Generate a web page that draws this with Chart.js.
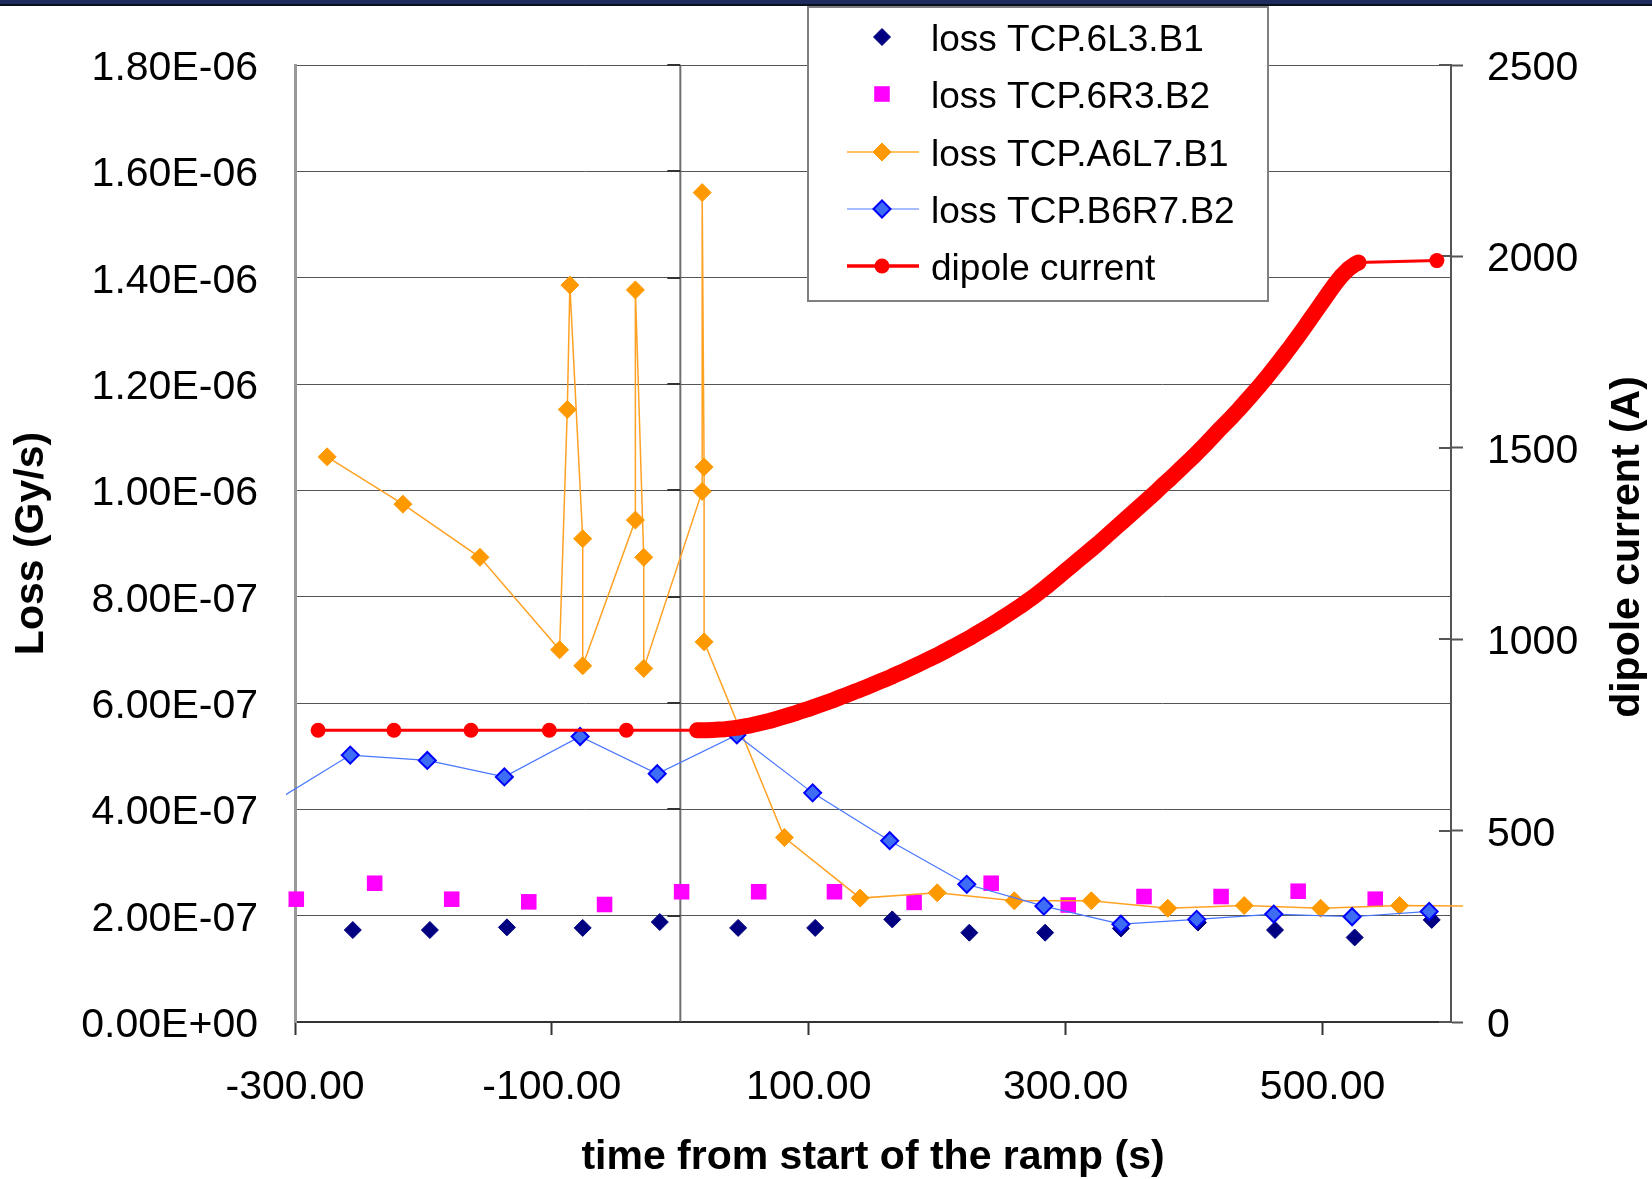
<!DOCTYPE html>
<html>
<head>
<meta charset="utf-8">
<title>Collimator losses during the ramp</title>
<script src="https://cdn.jsdelivr.net/npm/chart.js@4.4.1/dist/chart.umd.min.js"></script>
<style>
  html, body { margin: 0; padding: 0; background: #fff; }
  #wrap { position: relative; width: 1652px; height: 1179px; }
  #band { position: absolute; left: 0; top: 0; width: 1652px; height: 4px; background: #1c2c5c; border-bottom: 2px solid #0a0f1e; }
</style>
</head>
<body>
<div id="wrap">
  <canvas id="lossChart"></canvas>
  <div id="band"></div>
</div>
<script>
const seriesNames = ['loss TCP.6L3.B1', 'loss TCP.6R3.B2', 'loss TCP.A6L7.B1', 'loss TCP.B6R7.B2', 'dipole current'];

// axis ticks
const timeTicks = [-300, -100, 100, 300, 500];
const lossTicks = [0, 2e-7, 4e-7, 6e-7, 8e-7, 1e-6, 1.2e-6, 1.4e-6, 1.6e-6, 1.8e-6];
const currentTicks = [0, 500, 1000, 1500, 2000, 2500];

// TCP.6L3.B1 (Gy/s)
const tcp6L3Time = [-255, -195, -135, -76, -16, 45, 105, 165, 225, 284, 343, 403, 463, 525, 585];
const tcp6L3Loss = [1.73e-7, 1.73e-7, 1.78e-7, 1.77e-7, 1.88e-7, 1.77e-7, 1.77e-7, 1.93e-7, 1.68e-7, 1.68e-7, 1.76e-7, 1.87e-7, 1.73e-7, 1.59e-7, 1.92e-7];

// TCP.6R3.B2
const tcp6R3Time = [-299, -238, -178, -118, -59, 1, 61, 120, 182, 242, 302, 361, 421, 481, 541];
const tcp6R3Loss = [2.31e-7, 2.61e-7, 2.31e-7, 2.26e-7, 2.21e-7, 2.45e-7, 2.45e-7, 2.45e-7, 2.25e-7, 2.61e-7, 2.2e-7, 2.36e-7, 2.36e-7, 2.46e-7, 2.31e-7];

// TCP.A6L7.B1
const tcpA6L7Time = [-275, -216, -156, -94, -88, -86, -76, -76, -35, -35, -28.5, -28.5, 17, 17, 18.5, 18.5, 81, 140, 200, 260, 320, 379.5, 439, 498.5, 560, 620];
const tcpA6L7Loss = [1.063e-6, 9.74e-7, 8.74e-7, 7.0e-7, 1.152e-6, 1.386e-6, 9.09e-7, 6.7e-7, 9.44e-7, 1.377e-6, 8.74e-7, 6.65e-7, 9.98e-7, 1.56e-6, 1.044e-6, 7.15e-7, 3.47e-7, 2.33e-7, 2.43e-7, 2.28e-7, 2.28e-7, 2.14e-7, 2.19e-7, 2.14e-7, 2.19e-7, 2.18e-7];

// TCP.B6R7.B2
const tcpB6R7Time = [-317, -257, -197, -137, -78, -18, 44, 103, 163, 223, 283, 343, 402, 462, 523, 583];
const tcpB6R7Loss = [4.13e-7, 5.02e-7, 4.92e-7, 4.61e-7, 5.37e-7, 4.67e-7, 5.4e-7, 4.31e-7, 3.41e-7, 2.59e-7, 2.18e-7, 1.84e-7, 1.93e-7, 2.03e-7, 1.98e-7, 2.08e-7];

// main dipole current (A)
const dipoleTime = [-282, -223, -163, -102, -42, 13, 15,
  20, 25, 30, 35, 40, 45, 50, 55, 60, 65, 70, 75, 80, 85, 90, 95, 100,
  105, 110, 115, 120, 125, 130, 135, 140, 145, 150, 155, 160, 165, 170, 175, 180, 185, 190, 195, 200,
  205, 210, 215, 220, 225, 230, 235, 240, 245, 250, 255, 260, 265, 270, 275, 280, 285, 290, 295, 300,
  305, 310, 315, 320, 325, 330, 335, 340, 345, 350, 355, 360, 365, 370, 375, 380, 385, 390, 395, 400,
  405, 410, 415, 420, 425, 430, 435, 440, 445, 450, 455, 460, 465, 470, 475, 480, 485, 490, 495, 500,
  505, 510, 515, 520, 525, 528, 589];
const dipoleCurrent = [762, 762, 762, 762, 762, 762, 762,
  762, 763, 764, 765, 767, 769, 772, 775, 779, 783, 787, 792, 797, 802, 807, 813, 818,
  824, 830, 836, 842, 849, 855, 862, 868, 875, 882, 889, 896, 903, 911, 918, 926, 934, 942, 950, 958,
  967, 976, 985, 994, 1003, 1013, 1023, 1033, 1043, 1054, 1065, 1076, 1087, 1099, 1111, 1124, 1137, 1151, 1165, 1179,
  1193, 1207, 1221, 1235, 1249, 1264, 1279, 1294, 1309, 1324, 1339, 1354, 1369, 1384, 1400, 1415, 1431, 1447, 1463, 1479,
  1496, 1513, 1531, 1549, 1566, 1583, 1601, 1620, 1639, 1658, 1678, 1699, 1720, 1742, 1764, 1787, 1810, 1834, 1858, 1882,
  1906, 1929, 1950, 1967, 1979, 1984, 1989];

// ramp start / end times, the ramp is drawn as a dense band
const rampStart = 13;
const rampEnd = 528;

const FONT = '"Liberation Sans", Arial, sans-serif';
Chart.defaults.font.family = FONT;
Chart.defaults.color = '#000';

const toPoints = (xs, ys) => xs.map((x, i) => ({ x: x, y: ys[i] }));

// 1.80E-06 style labels
function sciLabel(v) {
  const parts = Number(v).toExponential(2).split('e');
  const e = parseInt(parts[1], 10);
  return parts[0] + 'E' + (e < 0 ? '-' : '+') + String(Math.abs(e)).padStart(2, '0');
}

function markerPath(ctx, style, x, y, r) {
  ctx.beginPath();
  if (style === 'rectRot') {
    ctx.moveTo(x - r, y); ctx.lineTo(x, y - r); ctx.lineTo(x + r, y); ctx.lineTo(x, y + r); ctx.closePath();
  } else if (style === 'rect') {
    const h = r * Math.SQRT1_2;
    ctx.rect(x - h, y - h, 2 * h, 2 * h);
  } else {
    ctx.arc(x, y, r, 0, Math.PI * 2);
  }
}

const chartDecor = {
  id: 'chartDecor',
  beforeDatasetsDraw(chart) {
    const { ctx, chartArea: a, scales } = chart;
    const x0 = scales.x.getPixelForValue(0);
    ctx.save();
    ctx.strokeStyle = '#6f6f6f';
    ctx.lineWidth = 2;
    ctx.beginPath(); ctx.moveTo(x0, a.top); ctx.lineTo(x0, a.bottom); ctx.stroke();
    ctx.strokeStyle = '#333';
    lossTicks.forEach(v => {
      const y = Math.round(scales.y.getPixelForValue(v));
      ctx.beginPath(); ctx.moveTo(x0 - 13, y); ctx.lineTo(x0, y); ctx.stroke();
    });
    ctx.strokeStyle = '#555';
    currentTicks.forEach(v => {
      const y = Math.round(scales.y2.getPixelForValue(v));
      ctx.beginPath(); ctx.moveTo(a.right - 12, y); ctx.lineTo(a.right, y); ctx.stroke();
    });
    ctx.restore();
  },
  afterDraw(chart) {
    const { ctx, chartArea: a, scales } = chart;
    ctx.save();
    ctx.fillStyle = '#000';

    // value labels of both vertical axes
    ctx.font = '41px ' + FONT;
    ctx.textBaseline = 'alphabetic';
    ctx.textAlign = 'right';
    lossTicks.forEach(v => {
      ctx.fillText(sciLabel(v), a.left - 37, Math.round(scales.y.getPixelForValue(v)) + 15);
    });
    ctx.textAlign = 'left';
    currentTicks.forEach(v => {
      ctx.fillText(String(v), a.right + 36, Math.round(scales.y2.getPixelForValue(v)) + 15);
    });

    ctx.font = 'bold 41px ' + FONT;
    ctx.textAlign = 'center';
    ctx.fillText('time from start of the ramp (s)', (a.left + a.right) / 2, 1169);
    ctx.save();
    ctx.translate(43, (a.top + a.bottom) / 2);
    ctx.rotate(-Math.PI / 2);
    ctx.fillText('Loss (Gy/s)', 0, 0);
    ctx.restore();
    ctx.save();
    ctx.translate(1639, 547);
    ctx.rotate(-Math.PI / 2);
    ctx.fillText('dipole current (A)', 0, 0);
    ctx.restore();

    // legend box over the top of the plot
    ctx.fillStyle = '#fff';
    ctx.fillRect(808, 7, 460, 294);
    ctx.strokeStyle = '#808080';
    ctx.lineWidth = 2;
    ctx.strokeRect(808, 7, 460, 294);
    const rows = [37, 94, 152, 209, 266];
    chart.data.datasets.forEach((ds, i) => {
      const y = rows[i];
      if (ds.showLine !== false) {
        ctx.strokeStyle = ds.legendLine || ds.borderColor;
        ctx.lineWidth = ds.borderWidth + 0.5;
        ctx.beginPath(); ctx.moveTo(847, y); ctx.lineTo(919, y); ctx.stroke();
      }
      markerPath(ctx, ds.pointStyle, 882, y, ds.pointRadius);
      ctx.fillStyle = ds.pointBackgroundColor;
      ctx.fill();
      if (ds.pointBorderWidth) {
        ctx.strokeStyle = ds.pointBorderColor;
        ctx.lineWidth = ds.pointBorderWidth;
        ctx.stroke();
      }
      ctx.fillStyle = '#000';
      ctx.font = '37px ' + FONT;
      ctx.textAlign = 'left';
      ctx.fillText(ds.label, 931, y + 14);
    });
    ctx.restore();
  }
};

const ctx = document.getElementById('lossChart');
const lossChart = new Chart(ctx, {
  type: 'scatter',
  data: {
    datasets: [
      {
        label: seriesNames[0],
        data: toPoints(tcp6L3Time, tcp6L3Loss),
        showLine: false,
        pointStyle: 'rectRot',
        pointRadius: 8.5,
        pointBackgroundColor: '#000080',
        pointBorderColor: '#000080',
        pointBorderWidth: 1,
        yAxisID: 'y',
        order: 4
      },
      {
        label: seriesNames[1],
        data: toPoints(tcp6R3Time, tcp6R3Loss),
        showLine: false,
        pointStyle: 'rect',
        pointRadius: 11,
        pointBackgroundColor: '#ff00ff',
        pointBorderColor: '#ff00ff',
        pointBorderWidth: 0,
        clip: false,
        yAxisID: 'y',
        order: 3
      },
      {
        label: seriesNames[2],
        data: toPoints(tcpA6L7Time, tcpA6L7Loss),
        showLine: true,
        borderColor: '#ffa224',
        legendLine: '#ffc060',
        borderWidth: 1.5,
        pointStyle: 'rectRot',
        pointRadius: 9,
        pointBackgroundColor: '#ff9900',
        pointBorderColor: '#ff9900',
        pointBorderWidth: 1,
        clip: { left: false, top: false, right: 12, bottom: false },
        yAxisID: 'y',
        order: 2
      },
      {
        label: seriesNames[3],
        data: toPoints(tcpB6R7Time, tcpB6R7Loss),
        showLine: true,
        borderColor: '#4675ff',
        legendLine: '#8aa5ff',
        borderWidth: 1.2,
        pointStyle: 'rectRot',
        pointRadius: 8.5,
        pointBackgroundColor: '#3d6cf5',
        pointBorderColor: '#0000ff',
        pointBorderWidth: 2,
        clip: { left: 9, top: false, right: false, bottom: false },
        yAxisID: 'y',
        order: 1
      },
      {
        label: seriesNames[4],
        data: toPoints(dipoleTime, dipoleCurrent),
        showLine: true,
        borderColor: '#ff0000',
        borderWidth: 3,
        borderCapStyle: 'round',
        borderJoinStyle: 'round',
        segment: {
          // samples on the ramp overlap into one thick band
          borderWidth: c => (c.p0.parsed.x >= rampStart && c.p1.parsed.x <= rampEnd ? 16 : 3)
        },
        pointStyle: 'circle',
        pointRadius: 7.5,
        pointBackgroundColor: '#ff0000',
        pointBorderColor: '#ff0000',
        pointBorderWidth: 0,
        yAxisID: 'y2',
        order: 0
      }
    ]
  },
  options: {
    responsive: true,
    maintainAspectRatio: false,
    animation: false,
    events: [],
    layout: { padding: { top: 65, left: 0, right: 0, bottom: 0 } },
    plugins: {
      legend: { display: false },
      tooltip: { enabled: false }
    },
    scales: {
      x: {
        type: 'linear',
        min: -300,
        max: 600,
        afterBuildTicks: axis => { axis.ticks = timeTicks.map(v => ({ value: v })); },
        afterFit: axis => { axis.height = 157; },
        grid: { drawOnChartArea: false, drawTicks: true, tickLength: 13, tickColor: '#333', tickWidth: 2 },
        border: { display: true, color: '#333', width: 2 },
        ticks: { padding: 28, autoSkip: false, maxRotation: 0, font: { size: 41 }, color: '#000', callback: v => Number(v).toFixed(2) }
      },
      y: {
        position: 'left',
        min: 0,
        max: 1.8e-6,
        afterBuildTicks: axis => { axis.ticks = lossTicks.map(v => ({ value: v })); },
        afterFit: axis => { axis.width = 295; },
        grid: { color: '#555', lineWidth: 1, drawTicks: false },
        border: { display: true, color: '#999', width: 3 },
        ticks: { display: false }
      },
      y2: {
        position: 'right',
        min: 0,
        max: 2500,
        afterBuildTicks: axis => { axis.ticks = currentTicks.map(v => ({ value: v })); },
        afterFit: axis => { axis.width = 201; },
        grid: { drawOnChartArea: false, drawTicks: true, tickLength: 12, tickColor: '#555', tickWidth: 2 },
        border: { display: true, color: '#555', width: 2 },
        ticks: { display: false }
      }
    }
  },
  plugins: [chartDecor]
});
</script>
</body>
</html>
